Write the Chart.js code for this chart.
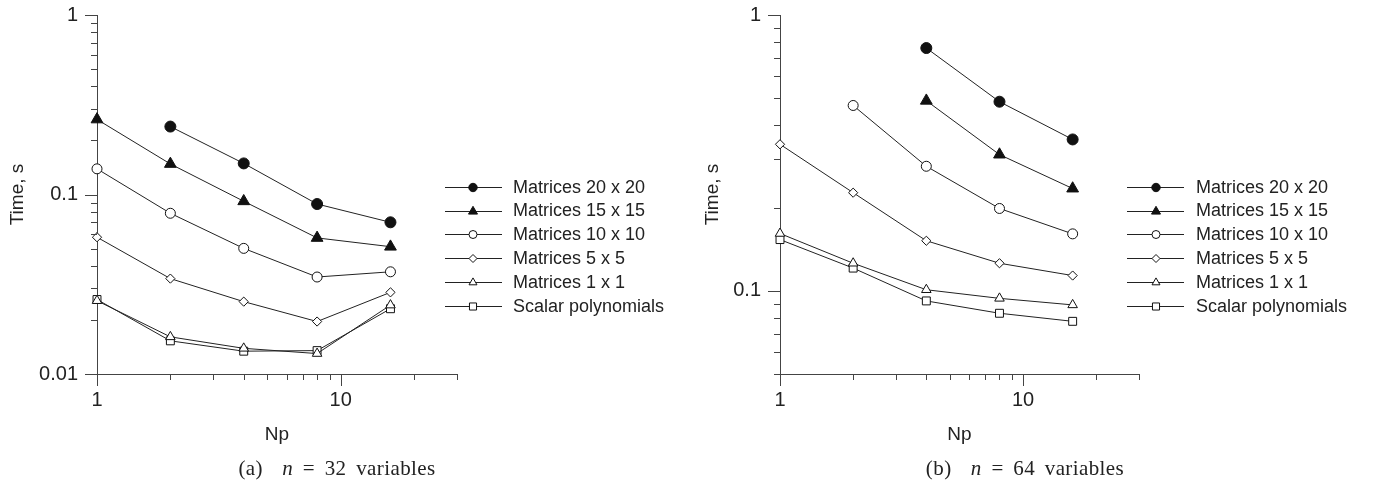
<!DOCTYPE html>
<html><head><meta charset="utf-8">
<script src="https://cdn.jsdelivr.net/npm/chart.js@4.4.0/dist/chart.umd.min.js"></script>
<style>
html,body{margin:0;padding:0;background:#fff;}
#wrap{position:relative;width:1378px;height:485px;overflow:hidden;background:#fff;}
canvas{position:absolute;top:0;}
.cap{position:absolute;top:456px;line-height:24px;font-family:'Liberation Serif','Times New Roman',serif;font-size:21px;color:#222;white-space:nowrap;transform:translateX(-50%);word-spacing:4px;letter-spacing:0.4px;}
</style></head>
<body><div id="wrap">
<canvas id="ca" width="690" height="485" style="left:0"></canvas>
<canvas id="cb" width="688" height="485" style="left:690px"></canvas>
<div class="cap" style="left:337px">(a)&nbsp; <i>n</i> = 32 variables</div>
<div class="cap" style="left:1025px">(b)&nbsp; <i>n</i> = 64 variables</div>
</div>
<script>
// ---------- data ----------
const npValues = [1, 2, 4, 8, 16];
const seriesLabels = ['Matrices 20 x 20', 'Matrices 15 x 15', 'Matrices 10 x 10', 'Matrices 5 x 5', 'Matrices 1 x 1', 'Scalar polynomials'];

// n = 32 variables
const a20 = [null, 0.239, 0.149, 0.0885, 0.070];
const a15 = [0.262, 0.148, 0.0917, 0.0573, 0.0512];
const a10 = [0.139, 0.0786, 0.0501, 0.0347, 0.0371];
const a5 = [0.0578, 0.034, 0.0253, 0.0196, 0.0285];
const a1 = [0.0256, 0.0161, 0.0139, 0.0130, 0.0242];
const aScalar = [0.0260, 0.0153, 0.0134, 0.0135, 0.0231];

// n = 64 variables
const b20 = [null, null, 0.759, 0.485, 0.354];
const b15 = [null, null, 0.489, 0.312, 0.235];
const b10 = [null, 0.470, 0.283, 0.199, 0.161];
const b5 = [0.340, 0.227, 0.152, 0.126, 0.1137];
const b1 = [0.1615, 0.126, 0.101, 0.094, 0.089];
const bScalar = [0.1535, 0.121, 0.092, 0.083, 0.0776];

// ticks
const xTickValues = [1, 2, 3, 4, 5, 6, 7, 8, 9, 10, 20, 30];
const xTickLabels = {1: '1', 10: '10'};
const yTickValuesA = [0.01, 0.02, 0.03, 0.04, 0.05, 0.06, 0.07, 0.08, 0.09, 0.1, 0.2, 0.3, 0.4, 0.5, 0.6, 0.7, 0.8, 0.9, 1];
const yTickValuesB = [0.05, 0.06, 0.07, 0.08, 0.09, 0.1, 0.2, 0.3, 0.4, 0.5, 0.6, 0.7, 0.8, 0.9, 1];
const yTickLabels = {0.01: '0.01', 0.1: '0.1', 1: '1'};
const majorValues = [0.01, 0.1, 1, 10];

// ---------- styles ----------
const markerStyles = [
  {style: 'circle', fill: '#111', r: 5.5, lr: 4.2},
  {style: 'triangle', fill: '#111', r: 6.8, lr: 5.2},
  {style: 'circle', fill: '#fff', r: 5, lr: 4},
  {style: 'rectRot', fill: '#fff', r: 4.6, lr: 4},
  {style: 'triangle', fill: '#fff', r: 5.5, lr: 4.6},
  {style: 'rect', fill: '#fff', r: 5.6, lr: 5}
];
const axisColor = '#444';
const textColor = '#222';
const FONT = "'Liberation Sans', Arial, sans-serif";

function drawMarker(ctx, style, x, y, r, fill) {
  ctx.beginPath();
  if (style === 'circle') {
    ctx.arc(x, y, r, 0, Math.PI * 2);
  } else if (style === 'triangle') {
    let rad = 0;
    ctx.moveTo(x + Math.sin(rad) * r, y - Math.cos(rad) * r);
    rad += 2 * Math.PI / 3;
    ctx.lineTo(x + Math.sin(rad) * r, y - Math.cos(rad) * r);
    rad += 2 * Math.PI / 3;
    ctx.lineTo(x + Math.sin(rad) * r, y - Math.cos(rad) * r);
    ctx.closePath();
  } else if (style === 'rectRot') {
    ctx.moveTo(x - r, y); ctx.lineTo(x, y - r); ctx.lineTo(x + r, y); ctx.lineTo(x, y + r); ctx.closePath();
  } else {
    const s = r * Math.SQRT1_2;
    ctx.rect(x - s, y - s, 2 * s, 2 * s);
  }
  ctx.fillStyle = fill; ctx.fill();
  ctx.lineWidth = 1; ctx.strokeStyle = '#111'; ctx.stroke();
}

const tickPlugin = {
  id: 'customTicks',
  afterDraw(chart) {
    const ctx = chart.ctx, xs = chart.scales.x, ys = chart.scales.y;
    ctx.save();
    ctx.strokeStyle = axisColor; ctx.lineWidth = 1;
    ctx.beginPath();
    xs.ticks.forEach(t => {
      const px = Math.round(xs.getPixelForValue(t.value)) + 0.5;
      const len = majorValues.includes(t.value) ? 12 : 6;
      ctx.moveTo(px, xs.top); ctx.lineTo(px, xs.top + len);
    });
    ys.ticks.forEach(t => {
      const py = Math.round(ys.getPixelForValue(t.value)) + 0.5;
      const len = majorValues.includes(t.value) ? 12 : 6;
      ctx.moveTo(ys.right, py); ctx.lineTo(ys.right - len, py);
    });
    ctx.stroke();
    ctx.restore();
  }
};

const legendPlugin = {
  id: 'customLegend',
  afterDraw(chart, args, opts) {
    const ctx = chart.ctx;
    ctx.save();
    chart.data.datasets.forEach((ds, i) => {
      const y = opts.y0 + i * opts.dy;
      ctx.beginPath();
      ctx.strokeStyle = '#222'; ctx.lineWidth = 1;
      ctx.moveTo(opts.x1, Math.round(y) + 0.5); ctx.lineTo(opts.x2, Math.round(y) + 0.5);
      ctx.stroke();
      const m = markerStyles[i];
      drawMarker(ctx, m.style, opts.mx, Math.round(y) + 0.5, m.lr, m.fill);
      ctx.fillStyle = textColor;
      ctx.font = '18px ' + FONT;
      ctx.textBaseline = 'middle';
      ctx.textAlign = 'left';
      ctx.fillText(ds.label, opts.tx, y + 1);
    });
    ctx.restore();
  }
};

function makeDatasets(seriesList) {
  return seriesList.map((vals, i) => ({
    label: seriesLabels[i],
    data: npValues.map((x, k) => ({x: x, y: vals[k]})),
    borderColor: '#222',
    borderWidth: 1,
    pointStyle: markerStyles[i].style,
    pointRadius: markerStyles[i].r,
    pointHoverRadius: markerStyles[i].r,
    pointBackgroundColor: markerStyles[i].fill,
    pointBorderColor: '#111',
    pointBorderWidth: 1,
    fill: false,
    tension: 0,
    spanGaps: false
  }));
}

function makeChart(id, seriesList, yMin, yTicks, cfg) {
  return new Chart(document.getElementById(id), {
    type: 'line',
    data: {datasets: makeDatasets(seriesList)},
    plugins: [tickPlugin, legendPlugin],
    options: {
      responsive: false,
      animation: false,
      devicePixelRatio: 1,
      clip: false,
      layout: {padding: {top: 15, right: cfg.padRight, left: 0, bottom: 0}},
      plugins: {
        legend: {display: false},
        tooltip: {enabled: false},
        customLegend: cfg.legend
      },
      scales: {
        x: {
          type: 'logarithmic',
          min: 1, max: 30,
          afterBuildTicks: s => { s.ticks = xTickValues.map(v => ({value: v, major: false})); },
          afterFit: s => { s.height = 111; s.paddingLeft = 0; s.paddingRight = 0; },
          grid: {display: true, drawOnChartArea: false, drawTicks: false},
          border: {display: true, color: axisColor, width: 1},
          ticks: {
            autoSkip: false, maxRotation: 0, minRotation: 0, padding: 14,
            color: textColor, font: {family: FONT, size: 20},
            callback: v => xTickLabels[v] !== undefined ? xTickLabels[v] : ''
          },
          title: {display: true, text: 'Np', color: textColor, font: {family: FONT, size: 19}, padding: {top: 0, bottom: 39}}
        },
        y: {
          type: 'logarithmic',
          min: yMin, max: 1,
          afterBuildTicks: s => { s.ticks = yTicks.map(v => ({value: v, major: false})); },
          afterFit: s => { s.width = cfg.axisX; s.paddingTop = 0; s.paddingBottom = 0; },
          grid: {display: true, drawOnChartArea: false, drawTicks: false},
          border: {display: true, color: axisColor, width: 1},
          ticks: {
            autoSkip: false, padding: 19,
            color: textColor, font: {family: FONT, size: 20},
            callback: v => yTickLabels[v] !== undefined ? yTickLabels[v] : ''
          },
          title: {display: true, text: 'Time, s', color: textColor, font: {family: FONT, size: 19}, padding: {top: cfg.titlePad, bottom: 0}}
        }
      }
    }
  });
}

makeChart('ca', [a20, a15, a10, a5, a1, aScalar], 0.01, yTickValuesA,
  {axisX: 97, padRight: 233, titlePad: 6, legend: {x1: 445, x2: 502, mx: 473, tx: 513, y0: 186.7, dy: 23.8}});
makeChart('cb', [b20, b15, b10, b5, b1, bScalar], 0.05, yTickValuesB,
  {axisX: 90, padRight: 239, titlePad: 11, legend: {x1: 437, x2: 494, mx: 466, tx: 506, y0: 186.7, dy: 23.8}});
</script>
</body></html>
